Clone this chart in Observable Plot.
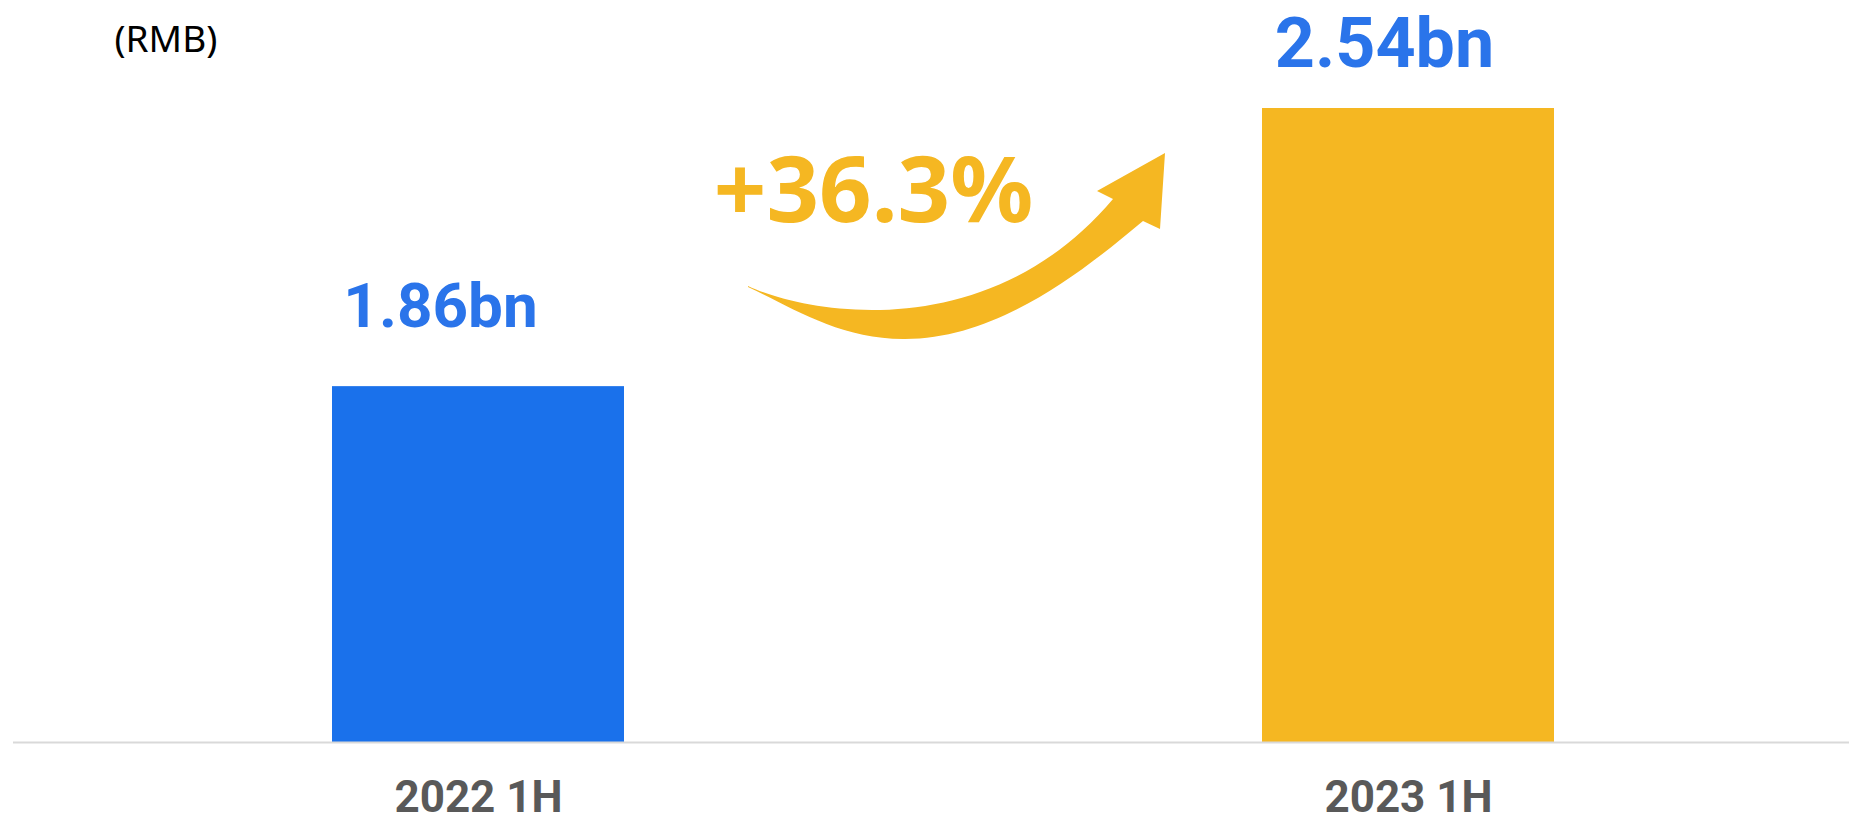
<!DOCTYPE html>
<html><head><meta charset="utf-8">
<script src="https://cdn.jsdelivr.net/npm/d3@7"></script>
<script src="https://cdn.jsdelivr.net/npm/@observablehq/plot@0.6"></script>
<style>body{margin:0;background:#fff;} svg{display:block}</style>
</head><body><div id="chart"></div>
<script>
// ---- data ----
const periods = ["2022 1H", "2023 1H"];
const revenue = [1.86, 2.54];
const valueLabels = ["1.86bn", "2.54bn"];
const growthLabel = "+36.3%";
const unitLabel = "(RMB)";

const rows = periods.map((p, i) => ({period: p, value: revenue[i], label: valueLabels[i]}));

// ---- styles ----
const blue = "#1a71eb";
const yellow = "#f5b722";
const labelBlue = "#2a74ea";
const yMin = 0.99;
const labelFont = "Roboto, 'Noto Sans', sans-serif";

// arrow outline, relative to the first bar's centre at the baseline
const arrowPath =
  "M270,-456 C332,-427 512,-397 635,-543 L619,-551 L687,-589 L682,-513 L665,-521 " +
  "C602,-468 517,-402 425,-403 C362,-403 315,-434 270,-455 Z";

const arrowMark = (index, scales) => {
  const bw = scales.x.bandwidth ? scales.x.bandwidth() : 0;
  const x0 = scales.x(periods[0]) + bw / 2;
  const y0 = scales.y(yMin);
  const path = document.createElementNS("http://www.w3.org/2000/svg", "path");
  path.setAttribute("transform", `translate(${x0},${y0})`);
  path.setAttribute("d", arrowPath);
  path.setAttribute("fill", yellow);
  return path;
};

const chart = Plot.plot({
  width: 1849,
  height: 822,
  marginLeft: 13,
  marginRight: 0,
  marginTop: 108,
  marginBottom: 80,
  style: {fontFamily: "'Noto Sans', sans-serif", background: "#fff"},
  x: {domain: periods, axis: null, paddingInner: 0.686, paddingOuter: 0.33, align: 0.52},
  y: {domain: [yMin, d3.max(revenue)], axis: null},
  color: {domain: periods, range: [blue, yellow]},
  marks: [
    Plot.barY(rows, {x: "period", y1: yMin, y2: "value", fill: "period"}),
    Plot.ruleY([yMin], {stroke: "#d9d9d9", strokeWidth: 2}),
    Plot.text(rows.filter((d, i) => i === 0), {
      x: "period", y: "value", text: "label", fill: labelBlue, fontFamily: labelFont,
      fontSize: 62, fontWeight: "bold", lineAnchor: "bottom", dx: -38, dy: -60
    }),
    Plot.text(rows.filter((d, i) => i === 1), {
      x: "period", y: "value", text: "label", fill: labelBlue, fontFamily: labelFont,
      fontSize: 70, fontWeight: "bold", lineAnchor: "bottom", dx: -24, dy: -42
    }),
    Plot.text(periods, {
      x: d => d, frameAnchor: "bottom", text: d => d, fill: "#595959", fontFamily: labelFont,
      fontSize: 44, fontWeight: "bold", lineAnchor: "bottom", dy: 69
    }),
    arrowMark,
    Plot.text([growthLabel], {
      x: () => periods[0], y: () => yMin, text: d => d, fill: yellow,
      fontSize: 92, fontWeight: "bold", lineAnchor: "bottom", dx: 395, dy: -521
    }),
    Plot.text([unitLabel], {
      frameAnchor: "top-left", text: d => d, fill: "#000",
      fontSize: 37, textAnchor: "start", lineAnchor: "bottom", dx: 101, dy: -57
    })
  ]
});
document.getElementById("chart").appendChild(chart);
</script>
</body></html>
